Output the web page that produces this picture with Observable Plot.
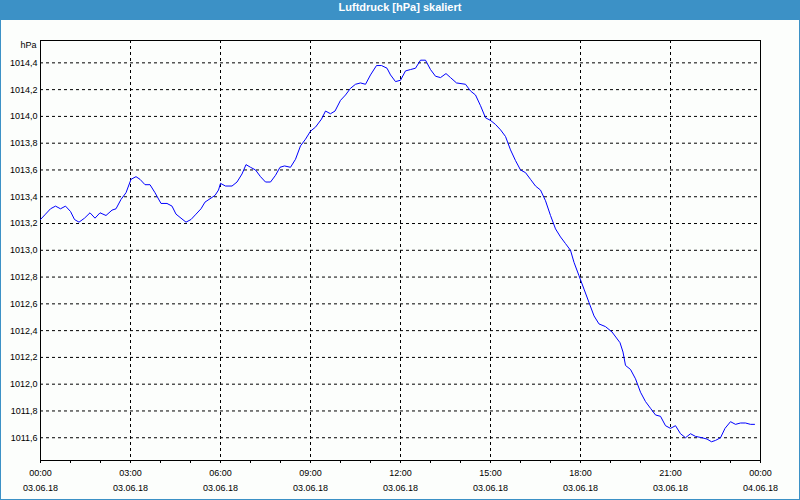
<!DOCTYPE html>
<html>
<head>
<meta charset="utf-8">
<script src="https://cdn.jsdelivr.net/npm/d3@7"></script>
<script src="https://cdn.jsdelivr.net/npm/@observablehq/plot@0.6"></script>
<style>
  html, body { margin: 0; padding: 0; background: #fcfefc; }
  #wrap { position: absolute; left: 0; top: 0; width: 800px; height: 500px; box-sizing: border-box;
          border: 1px solid #3c91c6; background: #fcfefc; overflow: hidden; }
  #title { height: 19px; line-height: 19px; background: #3c91c6; color: #fff; text-align: center;
           font: bold 11px "Liberation Sans", Arial, sans-serif; }
  #chart svg { display: block; }
</style>
</head>
<body>
<div id="wrap">
  <div id="title">Luftdruck [hPa] skaliert</div>
  <div id="chart"></div>
</div>
<script>
// Measurement times on 03.06.18 (HH:MM) and pressure in hPa
const times = [
  "00:00","00:10","00:20","00:30","00:40","00:50","01:00","01:08","01:17","01:28",
  "01:39","01:49","01:59","02:11","02:23","02:31","02:41","02:51","03:01","03:11",
  "03:19","03:29","03:39","03:49","04:01","04:13","04:23","04:31","04:41","04:51",
  "05:01","05:11","05:21","05:29","05:41","05:49","05:56","06:00","06:10","06:23",
  "06:33","06:43","06:51","07:00","07:10","07:20","07:30","07:40","07:50","07:59",
  "08:08","08:20","08:30","08:40","08:50","09:00","09:10","09:22","09:30","09:40",
  "09:49","10:00","10:10","10:20","10:30","10:40","10:50","11:00","11:12","11:22",
  "11:33","11:40","11:50","12:00","12:10","12:20","12:30","12:40","12:50","13:00",
  "13:10","13:20","13:31","13:40","13:52","14:10","14:20","14:30","14:40","14:50",
  "15:00","15:10","15:20","15:30","15:40","15:50","16:00","16:10","16:20","16:30",
  "16:40","16:50","17:00","17:10","17:20","17:30","17:40","17:47","17:57","18:07",
  "18:17","18:27","18:37","18:50","19:03","19:19","19:25","19:30","19:40","19:50",
  "20:00","20:10","20:20","20:30","20:40","20:50","21:00","21:10","21:20","21:30",
  "21:40","21:50","22:03","22:13","22:22","22:30","22:40","22:49","23:00","23:10",
  "23:20","23:30","23:40","23:48"
];
const pressure = [
  1013.23,1013.27,1013.31,1013.33,1013.31,1013.33,1013.29,1013.23,1013.21,1013.24,
  1013.28,1013.24,1013.28,1013.26,1013.30,1013.31,1013.38,1013.43,1013.53,1013.55,
  1013.53,1013.49,1013.49,1013.43,1013.35,1013.35,1013.33,1013.27,1013.24,1013.21,
  1013.23,1013.27,1013.31,1013.36,1013.39,1013.41,1013.45,1013.50,1013.48,1013.48,
  1013.51,1013.57,1013.64,1013.62,1013.60,1013.55,1013.51,1013.51,1013.56,1013.62,
  1013.63,1013.62,1013.68,1013.78,1013.83,1013.89,1013.92,1013.98,1014.04,1014.02,
  1014.04,1014.12,1014.16,1014.21,1014.24,1014.25,1014.24,1014.31,1014.38,1014.38,
  1014.36,1014.31,1014.26,1014.27,1014.34,1014.35,1014.36,1014.42,1014.42,1014.35,
  1014.30,1014.29,1014.32,1014.29,1014.25,1014.24,1014.19,1014.16,1014.08,1013.99,
  1013.97,1013.94,1013.90,1013.85,1013.75,1013.67,1013.60,1013.58,1013.53,1013.48,
  1013.45,1013.37,1013.26,1013.16,1013.10,1013.05,1013.00,1012.91,1012.81,1012.71,
  1012.61,1012.51,1012.45,1012.43,1012.39,1012.31,1012.24,1012.14,1012.11,1012.04,
  1011.94,1011.87,1011.82,1011.77,1011.76,1011.69,1011.67,1011.69,1011.63,1011.60,
  1011.63,1011.61,1011.60,1011.59,1011.57,1011.58,1011.60,1011.67,1011.72,1011.70,
  1011.71,1011.71,1011.70,1011.70
];
// Axis tick values / labels
const yTicks = [1011.6,1011.8,1012.0,1012.2,1012.4,1012.6,1012.8,1013.0,1013.2,1013.4,1013.6,1013.8,1014.0,1014.2,1014.4];
const xTickHours = [0,3,6,9,12,15,18,21,24];
const xTickTimes = ["00:00","03:00","06:00","09:00","12:00","15:00","18:00","21:00","00:00"];
const xTickDates = ["03.06.18","03.06.18","03.06.18","03.06.18","03.06.18","03.06.18","03.06.18","03.06.18","04.06.18"];
const yUnit = "hPa";

const day0 = Date.UTC(2018, 5, 3);
const H = 3600e3;
const toDate = t => new Date(day0 + (+t.slice(0, 2)) * H + (+t.slice(3)) * 60e3);
const data = times.map((t, i) => ({date: toDate(t), value: pressure[i]}));
const majorTicks = xTickHours.map((h, i) => ({date: new Date(day0 + h * H), time: xTickTimes[i], dateLabel: xTickDates[i]}));
const hourTicks = d3.range(0, 25).map(h => new Date(day0 + h * H));
const gridDates = majorTicks.slice(1, -1).map(d => d.date);
const fmt = d => d.toFixed(1).replace(".", ",");

const chart = Plot.plot({
  width: 798,
  height: 478,
  marginLeft: 39,
  marginRight: 39,
  marginTop: 20,
  marginBottom: 38,
  style: {background: "#fcfefc", fontFamily: "'Liberation Sans', Arial, sans-serif", fontSize: "9px", color: "#000"},
  x: {type: "utc", domain: [new Date(day0), new Date(day0 + 24 * H)]},
  y: {domain: [1011.43, 1014.567]},
  marks: [
    Plot.gridY(yTicks, {stroke: "#000", strokeOpacity: 1, strokeDasharray: "3,3"}),
    Plot.gridX(gridDates, {stroke: "#000", strokeOpacity: 1, strokeDasharray: "3,3"}),
    Plot.frame({stroke: "#000"}),
    Plot.axisY(yTicks, {tickSize: 0, tickPadding: 3, tickFormat: fmt, label: null}),
    Plot.axisX(hourTicks, {tickSize: 3, tickFormat: () => "", label: null}),
    Plot.text(majorTicks, {x: "date", text: "time", frameAnchor: "bottom", lineAnchor: "middle", dy: 13, fill: "#000"}),
    Plot.text(majorTicks, {x: "date", text: "dateLabel", frameAnchor: "bottom", lineAnchor: "middle", dy: 28, fill: "#000"}),
    Plot.text([yUnit], {text: d => d, frameAnchor: "top-left", textAnchor: "end", lineAnchor: "middle", dx: -4, dy: 5, fill: "#000"}),
    Plot.line(data, {x: "date", y: "value", stroke: "#0000ff", strokeWidth: 1})
  ]
});
document.getElementById("chart").appendChild(chart);
</script>
</body>
</html>
